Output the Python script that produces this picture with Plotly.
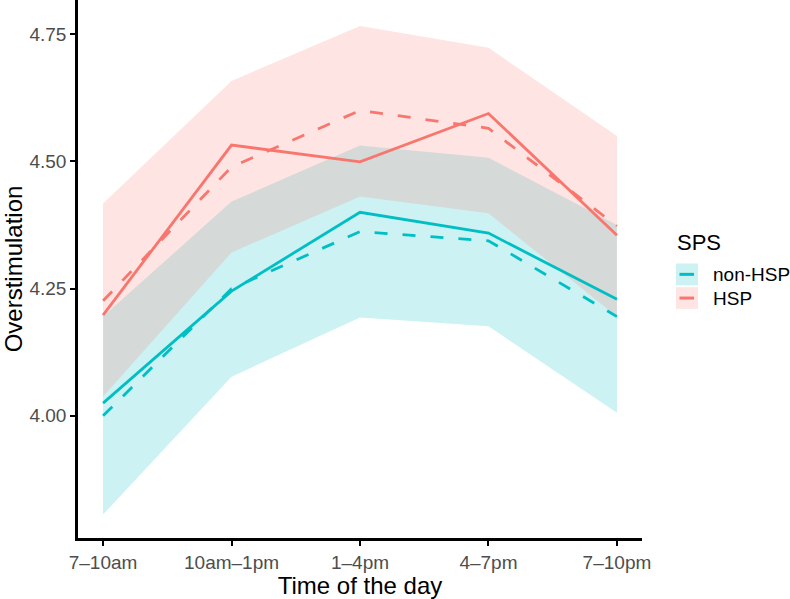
import plotly.graph_objects as go

# ---- data ----
times = ["7–10am", "10am–1pm", "1–4pm", "4–7pm", "7–10pm"]
xpos = [1, 2, 3, 4, 5]

non_obs = [4.025, 4.245, 4.400, 4.359, 4.229]
non_fit = [4.000, 4.250, 4.362, 4.344, 4.195]
non_lo = [3.806, 4.077, 4.193, 4.176, 4.006]
non_hi = [4.195, 4.421, 4.531, 4.507, 4.375]

hsp_obs = [4.198, 4.532, 4.499, 4.594, 4.355]
hsp_fit = [4.226, 4.489, 4.600, 4.565, 4.373]
hsp_lo = [4.038, 4.321, 4.431, 4.398, 4.195]
hsp_hi = [4.417, 4.658, 4.766, 4.723, 4.550]

groups = ["non-HSP", "HSP"]
y_ticks = [4.00, 4.25, 4.50, 4.75]

CYAN = "#00BFC4"
PINK = "#F8766D"
CYAN_F = "rgba(0,191,196,0.2)"
PINK_F = "rgba(248,118,109,0.2)"
FONT = "Liberation Sans, Arial, sans-serif"

fig = go.Figure()

# ribbons (cyan first, pink over it)
for lo, hi, fc in [(non_lo, non_hi, CYAN_F), (hsp_lo, hsp_hi, PINK_F)]:
    fig.add_trace(go.Scatter(
        x=xpos + xpos[::-1], y=hi + lo[::-1], fill="toself", fillcolor=fc,
        line=dict(width=0), mode="lines", hoverinfo="skip", showlegend=False))

# lines
for ys, col, dash in [(non_obs, CYAN, "solid"), (hsp_obs, PINK, "solid"),
                      (non_fit, CYAN, "13px,15px"), (hsp_fit, PINK, "13px,15px")]:
    fig.add_trace(go.Scatter(x=xpos, y=ys, mode="lines",
                             line=dict(color=col, width=2.8, dash=dash),
                             showlegend=False))

W, H = 790, 599
ML, MR, MT, MB = 78, 148, 0, 61
PW, PH = W - ML - MR, H - MT - MB

def px_x(p):
    return (p - ML) / PW

def px_y(p):
    return (H - MB - p) / PH

shapes = []
annotations = []
# manual legend
annotations.append(dict(text="SPS", x=px_x(675), y=px_y(242), xref="paper", yref="paper",
                        xanchor="left", yanchor="middle", showarrow=False,
                        font=dict(size=22, color="black", family=FONT)))
for i, (g, fc, lc) in enumerate(zip(groups, [CYAN_F, PINK_F], [CYAN, PINK])):
    top = 263.5 + i * 23.7
    bot = top + 21.7
    cy = (top + bot) / 2
    shapes.append(dict(type="rect", xref="paper", yref="paper",
                       x0=px_x(676), x1=px_x(698), y0=px_y(bot), y1=px_y(top),
                       fillcolor=fc, line=dict(width=0)))
    shapes.append(dict(type="line", xref="paper", yref="paper",
                       x0=px_x(679.5), x1=px_x(694), y0=px_y(cy), y1=px_y(cy),
                       line=dict(color=lc, width=3)))
    annotations.append(dict(text=g, x=px_x(711), y=px_y(cy), xref="paper", yref="paper",
                            xanchor="left", yanchor="middle", showarrow=False,
                            font=dict(size=19, color="black", family=FONT)))

fig.update_layout(
    width=W, height=H,
    margin=dict(l=ML, r=MR, t=MT, b=MB, pad=0),
    paper_bgcolor="white", plot_bgcolor="white",
    font=dict(family=FONT),
    showlegend=False,
    shapes=shapes, annotations=annotations,
    xaxis=dict(range=[0.805, 5.195], tickmode="array", tickvals=xpos, ticktext=times,
               showgrid=False, zeroline=False, showline=True, linecolor="black",
               linewidth=2.5, ticks="outside", ticklen=5, tickwidth=2.2, tickcolor="black",
               tickfont=dict(size=19, color="#4D4D4D", family=FONT),
               title=dict(text="Time of the day", font=dict(size=24, color="black", family=FONT),
                          standoff=3)),
    yaxis=dict(range=[3.760, 4.817], tickmode="array", tickvals=y_ticks,
               ticktext=[f"{v:.2f}" for v in y_ticks],
               showgrid=False, zeroline=False, showline=True, linecolor="black",
               linewidth=2.5, ticks="outside", ticklen=5, tickwidth=2.2, tickcolor="black",
               tickfont=dict(size=19, color="#4D4D4D", family=FONT),
               title=dict(text="Overstimulation", font=dict(size=24, color="black", family=FONT),
                          standoff=5)),
)

fig.write_html("out.html")
